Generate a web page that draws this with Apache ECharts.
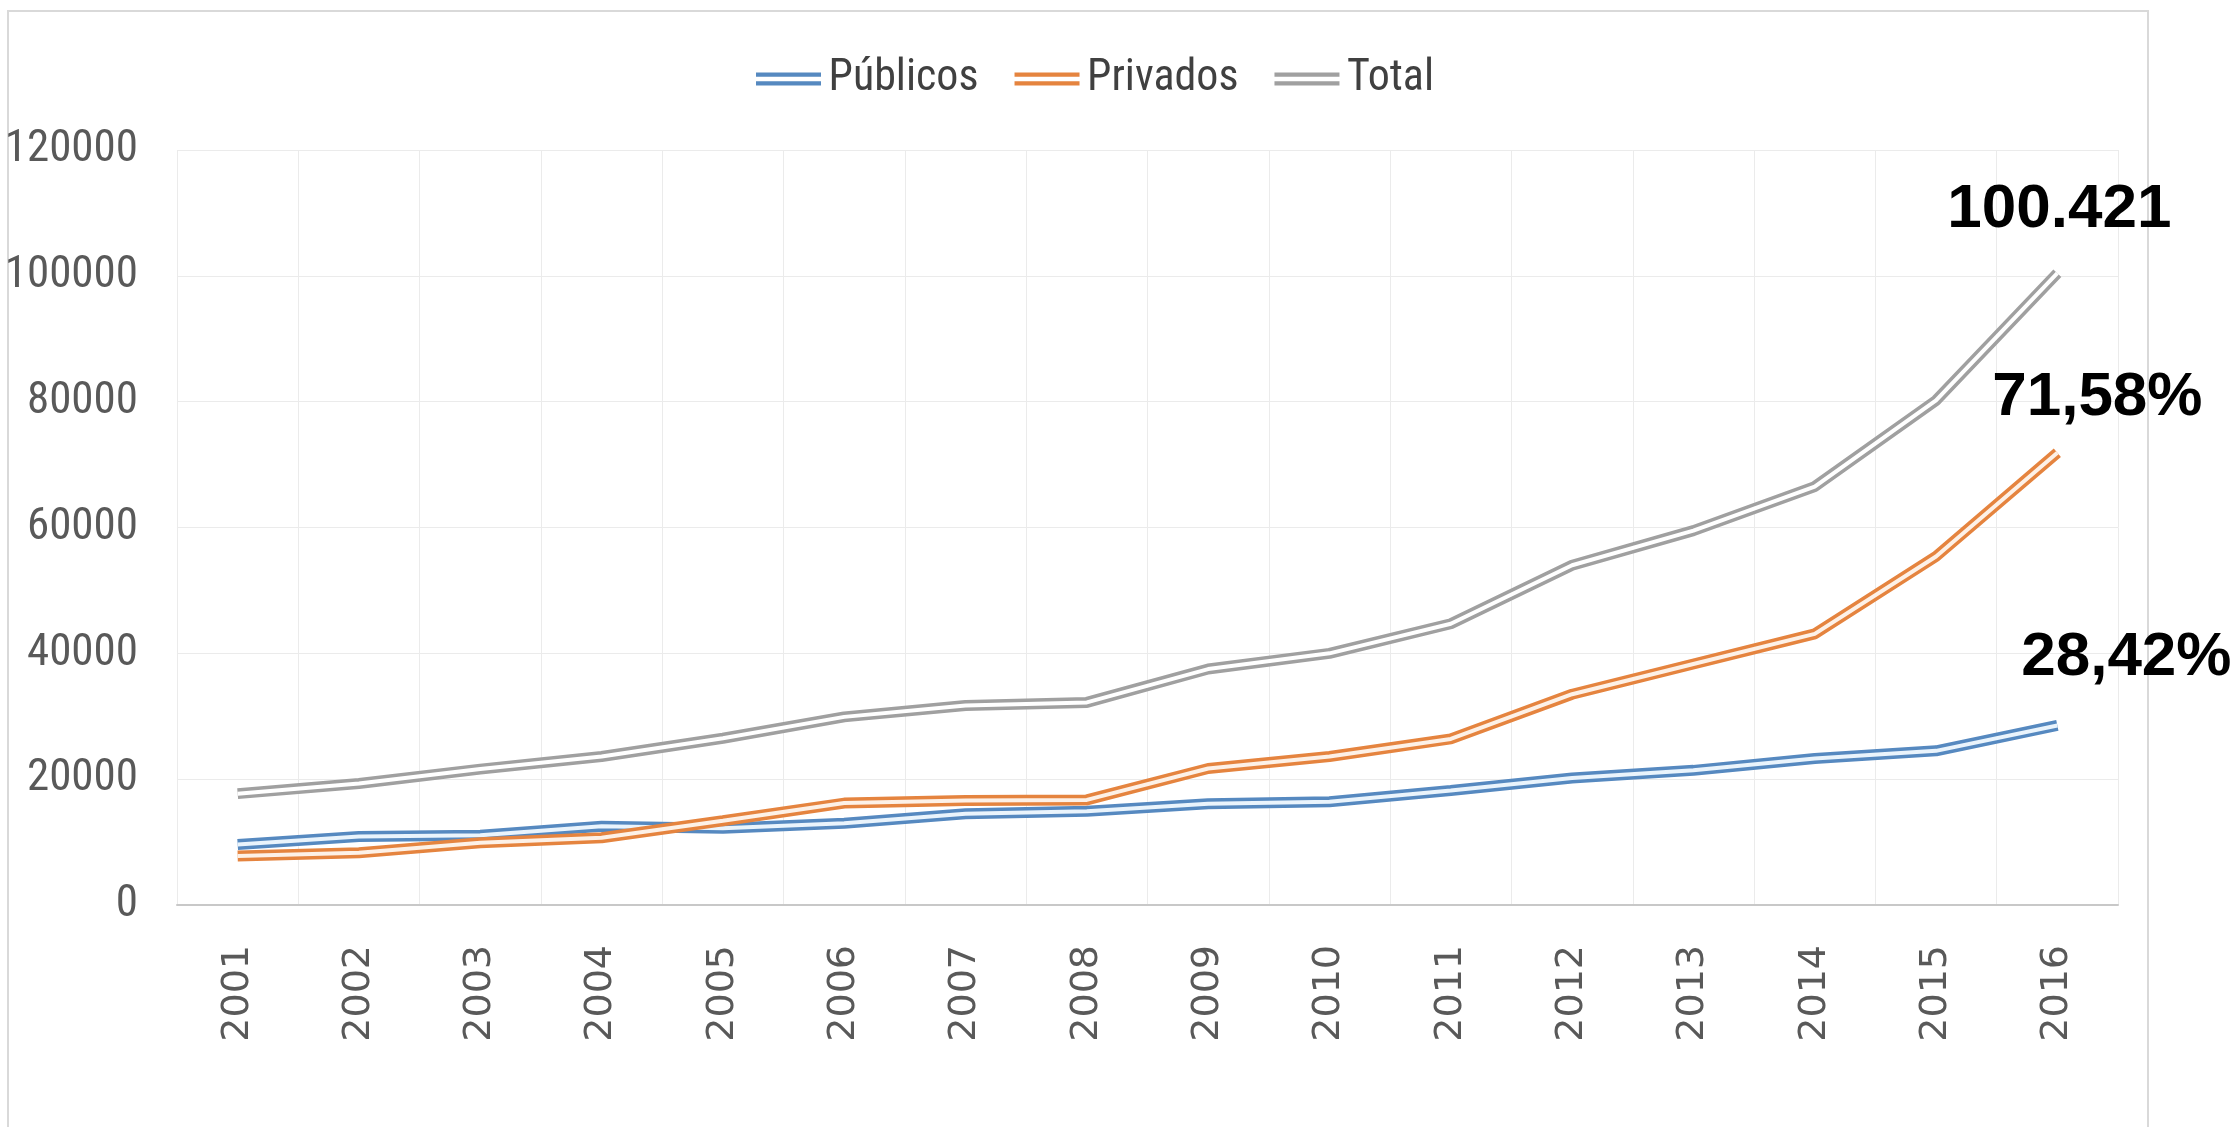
<!DOCTYPE html>
<html>
<head>
<meta charset="utf-8">
<script src="https://cdn.jsdelivr.net/npm/echarts@6/dist/echarts.min.js"></script>
<style>
html,body{margin:0;padding:0;background:#fff;}
#chart{width:2234px;height:1127px;}
</style>
</head>
<body>
<div id="chart"></div>
<script>
const years = ['2001','2002','2003','2004','2005','2006','2007','2008','2009','2010','2011','2012','2013','2014','2015','2016'];
const publicos = [9600, 10900, 11100, 12500, 12200, 13000, 14500, 14900, 16100, 16400, 18200, 20200, 21400, 23300, 24500, 28540];
const privados = [7800, 8300, 9900, 10700, 13400, 16200, 16600, 16700, 21700, 23600, 26400, 33500, 38300, 43100, 55400, 71881];
const total = [17700, 19300, 21600, 23600, 26500, 29900, 31700, 32200, 37500, 40000, 44700, 54000, 59500, 66500, 80200, 100421];
const seriesNames = ['Públicos', 'Privados', 'Total'];
const endLabels = ['28,42%', '71,58%', '100.421'];
const yTicks = [0, 20000, 40000, 60000, 80000, 100000, 120000];

const colors = ['#5689c0', '#e5843f', '#a0a0a0'];
const innerColors = ['#eaf4fc', '#fdf1e7', '#ffffff'];
const values = [publicos, privados, total];
const labelOffsets = [[69, -68], [40, -55], [2, -63]];
const narrow = "'Liberation Sans Narrow', 'Roboto Condensed', Roboto, sans-serif";

const chart = echarts.init(document.getElementById('chart'));
const series = [];
values.forEach((vals, k) => {
  series.push({
    name: seriesNames[k], type: 'line', data: vals, symbol: 'none', z: 2 + k * 2,
    lineStyle: { color: colors[k], width: 11 }, itemStyle: { color: colors[k] },
    emphasis: { disabled: true }, silent: true
  });
});
values.forEach((vals, k) => {
  series.push({
    name: seriesNames[k] + '_in', type: 'line', symbol: 'none', z: 3 + k * 2,
    lineStyle: { color: innerColors[k], width: 4 }, itemStyle: { color: innerColors[k] },
    emphasis: { disabled: true }, silent: true,
    data: vals,
    endLabel: {
      show: true, formatter: endLabels[k], distance: 0,
      offset: labelOffsets[k], align: 'center', verticalAlign: 'middle',
      color: '#000', fontWeight: 'bold',
      fontSize: 62, fontFamily: "'Liberation Sans', Arial, sans-serif"
    }
  });
});

chart.setOption({
  animation: false,
  backgroundColor: '#ffffff',
  graphic: [{
    type: 'rect', shape: { x: 8, y: 11, width: 2140, height: 1140 },
    style: { fill: 'none', stroke: '#d9d9d9', lineWidth: 2 }, silent: true, z: -1
  }],
  legend: {
    data: seriesNames.map(n => ({ name: n })),
    left: 751, top: 52,
    itemWidth: 66, itemHeight: 13, itemGap: 36,
    icon: 'path://M0,0 H60 V4 H0 Z M0,8 H60 V12 H0 Z',
    textStyle: { color: '#404040', fontSize: 44, fontFamily: narrow, padding: [0, 0, 0, 2] }
  },
  grid: { left: 177, right: 116, top: 150, bottom: 222, containLabel: false },
  xAxis: {
    type: 'category', data: years, boundaryGap: true,
    axisTick: { show: false },
    axisLine: { lineStyle: { color: '#c8c8c8', width: 2 } },
    splitLine: { show: true, interval: 0, lineStyle: { color: '#ebebeb', width: 1 } },
    axisLabel: { rotate: 90, interval: 0, margin: 40, color: '#595959', fontSize: 38, fontFamily: "'DejaVu Sans', sans-serif" }
  },
  yAxis: {
    type: 'value', min: 0, max: 120000, interval: 20000,
    axisLine: { show: false }, axisTick: { show: false },
    splitLine: { lineStyle: { color: '#ebebeb', width: 1 } },
    axisLabel: {
      margin: 39, color: '#595959', fontSize: 45, fontFamily: narrow,
      formatter: v => yTicks.includes(v) ? String(v) : ''
    }
  },
  series: series
});
</script>
</body>
</html>
